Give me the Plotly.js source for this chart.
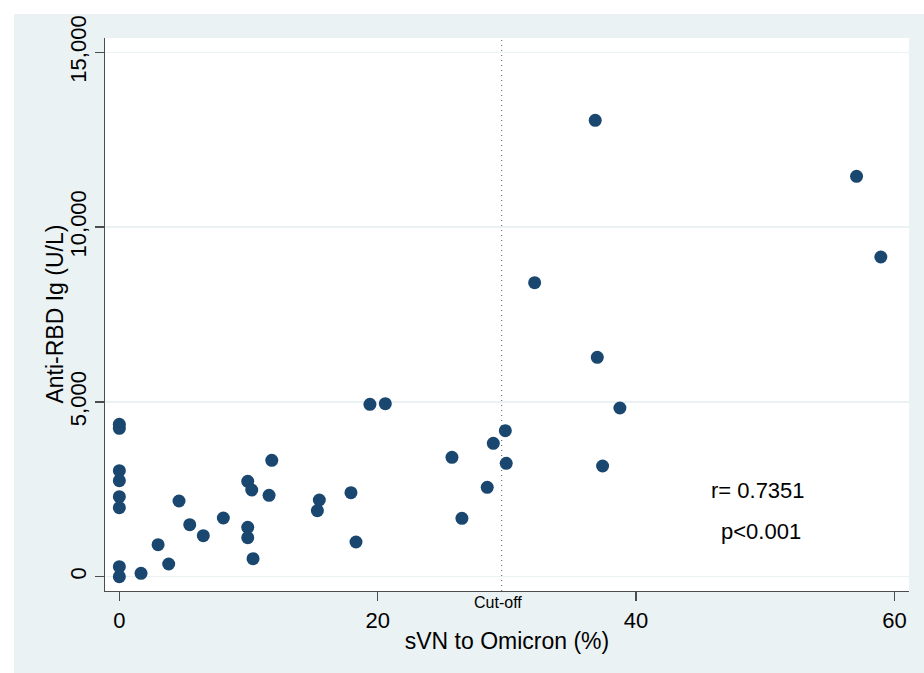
<!DOCTYPE html>
<html>
<head>
<meta charset="utf-8">
<script src="https://cdn.plot.ly/plotly-3.0.1.min.js"></script>
<style>
html,body{margin:0;padding:0;background:#ffffff;overflow:hidden;width:924px;height:673px;}
#chart{position:absolute;left:14px;top:14px;width:910px;height:659px;}
</style>
</head>
<body>
<div id="chart"></div>
<script>
// sVN to Omicron (%)
const svnOmicron = [0, 0, 0, 0, 0, 0, 0, 0,
  1.68, 3.0, 3.82, 4.62, 5.45, 6.5, 8.05, 9.94, 10.25, 11.59, 11.8, 9.94, 9.94, 10.35,
  19.4, 20.59, 15.48, 15.33, 17.93, 18.32, 25.75, 26.52, 28.48, 28.95, 29.88, 29.95,
  36.84, 32.15, 37.0, 38.75, 37.41, 57.07, 58.95];
// Anti-RBD Ig (U/L)
const antiRBD = [4359, 4245, 3032, 2746, 2288, 1974, 286, 0,
  97, 915, 363, 2165, 1487, 1173, 1679, 2729, 2480, 2328, 3329, 1413, 1116, 515,
  4931, 4948, 2194, 1888, 2403, 993, 3415, 1670, 2557, 3816, 4176, 3244,
  13055, 8410, 6276, 4825, 3166, 11453, 9145];
const cutoff = 29.6;
const xTicks = [0, 20, 40, 60];
const yTicks = [0, 5000, 10000, 15000];
const yTickText = ["0", "5,000", "10,000", "15,000"];
const statsText = ["r= 0.7351", "p<0.001"];
const xTitle = "sVN to Omicron (%)";
const yTitle = "Anti-RBD Ig (U/L)";

const font = "Liberation Sans, Arial, sans-serif";
const bg = "#EAF2F3";
const axisCol = "#4d4d4d";

const data = [{
  type: "scatter",
  mode: "markers",
  x: svnOmicron,
  y: antiRBD,
  marker: {color: "#1A476F", size: 13, line: {width: 0}},
  hoverinfo: "x+y"
}];

const layout = {
  width: 910, height: 659,
  margin: {l: 91, r: 15, t: 24, b: 82},
  paper_bgcolor: bg,
  plot_bgcolor: "#ffffff",
  showlegend: false,
  font: {family: font, size: 22, color: "#000000"},
  xaxis: {
    range: [-1.11, 61.13],
    tickvals: xTicks,
    ticktext: xTicks.map(String),
    ticks: "outside", ticklen: 9, tickwidth: 1.3, tickcolor: axisCol,
    showline: true, linecolor: axisCol, linewidth: 1.3,
    showgrid: false, zeroline: false,
    tickfont: {family: font, size: 22, color: "#000"},
    title: {text: xTitle, font: {family: font, size: 23, color: "#000"}, standoff: 1}
  },
  yaxis: {
    range: [-409, 15409],
    tickvals: yTicks,
    ticktext: yTickText,
    tickangle: -90,
    ticks: "outside", ticklen: 9, tickwidth: 1.3, tickcolor: axisCol,
    showline: true, linecolor: axisCol, linewidth: 1.3,
    showgrid: true, gridcolor: bg, gridwidth: 1.5,
    zeroline: false,
    tickfont: {family: font, size: 22, color: "#000"}
  },
  shapes: [{
    type: "line", xref: "x", yref: "paper",
    x0: cutoff, x1: cutoff, y0: 0, y1: 1,
    line: {color: "#555555", width: 1, dash: "1px,4px"}
  }],
  annotations: [
    {x: -0.0634, y: 0.5, xref: "paper", yref: "paper", xanchor: "center", yanchor: "middle",
     textangle: -90, text: yTitle, showarrow: false,
     font: {family: font, size: 23, color: "#000"}},
    {x: cutoff, y: 0, xref: "x", yref: "paper", yanchor: "top", xanchor: "center",
     yshift: -1, xshift: -4, text: "Cut-off", showarrow: false,
     font: {family: font, size: 16, color: "#000"}},
    {x: 49.42, y: 2471, xref: "x", yref: "y", text: statsText[0], showarrow: false,
     font: {family: font, size: 22, color: "#000"}},
    {x: 49.7, y: 1307, xref: "x", yref: "y", text: statsText[1], showarrow: false,
     font: {family: font, size: 22, color: "#000"}}
  ]
};

Plotly.newPlot("chart", data, layout, {displayModeBar: false, staticPlot: true});
</script>
</body>
</html>
